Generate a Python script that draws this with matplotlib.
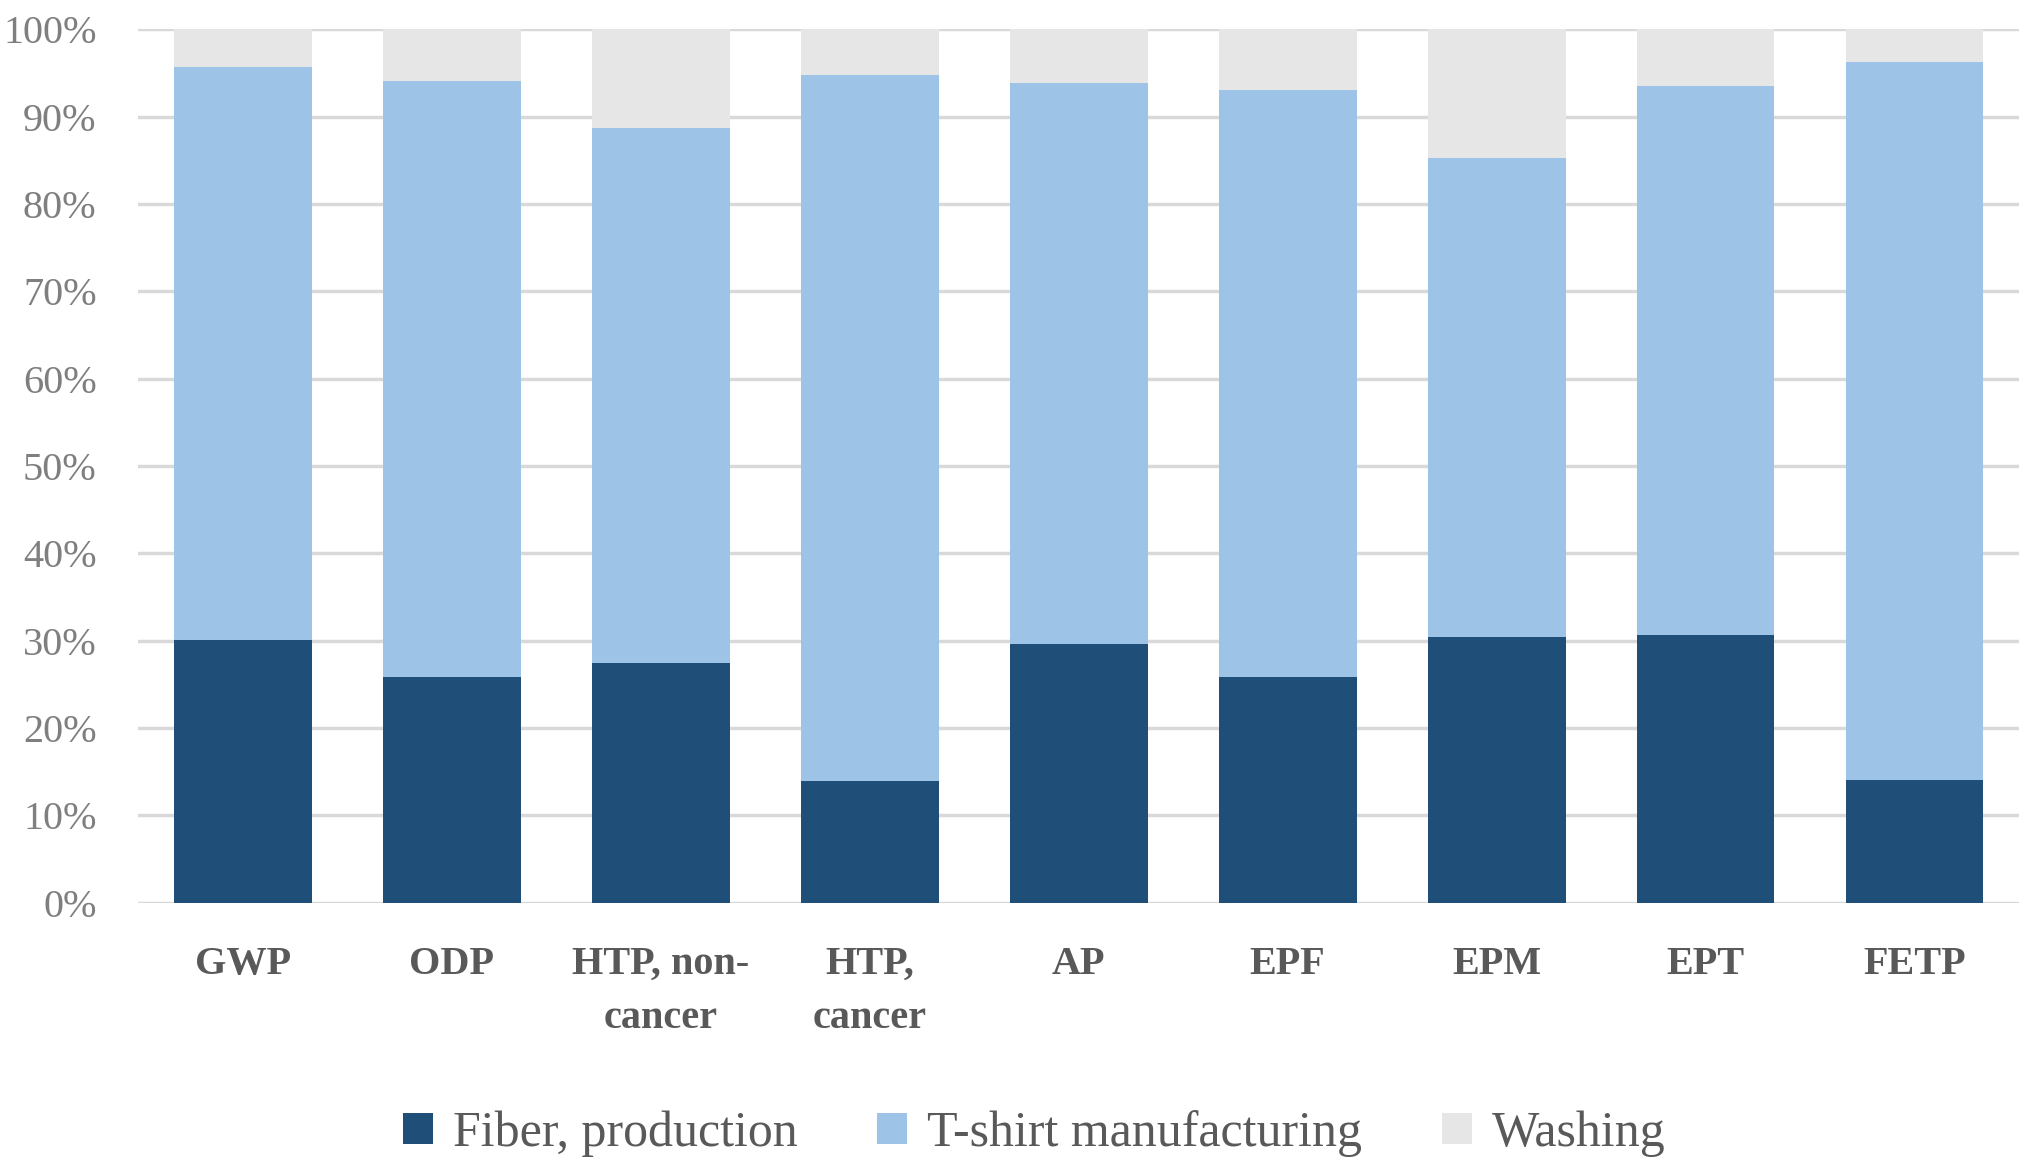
import numpy as np
from matplotlib import pyplot as plt
from matplotlib.ticker import PercentFormatter

plt.rcParams['font.family'] = ['Liberation Serif', 'DejaVu Serif']

categories = ["GWP", "ODP", "HTP, non-\ncancer", "HTP,\ncancer", "AP", "EPF", "EPM", "EPT", "FETP"]
fiber = [30.1, 25.9, 27.4, 13.9, 29.6, 25.8, 30.4, 30.7, 14.1]
tshirt = [65.6, 68.2, 61.3, 80.9, 64.3, 67.2, 54.9, 62.8, 82.2]
washing = [4.3, 5.9, 11.3, 5.2, 6.1, 7.0, 14.7, 6.5, 3.7]

c_fiber = "#1F4E79"
c_tshirt = "#9DC3E6"
c_wash = "#E7E6E6"

fig = plt.figure(figsize=(20.32, 11.71), dpi=100)
ax = fig.add_axes([0.068, 0.229, 0.9256, 0.746])

x = np.arange(len(categories))
w = 0.66
b1 = np.array(fiber)
b2 = b1 + np.array(tshirt)
ax.bar(x, fiber, w, color=c_fiber, label="Fiber, production", zorder=3)
ax.bar(x, tshirt, w, bottom=b1, color=c_tshirt, label="T-shirt manufacturing", zorder=3)
ax.bar(x, washing, w, bottom=b2, color=c_wash, label="Washing", zorder=3)

ax.set_xlim(-0.5, len(categories) - 0.5)
ax.set_ylim(0, 100)
ax.set_yticks(np.arange(0, 101, 10))
ax.yaxis.set_major_formatter(PercentFormatter(decimals=0))
ax.grid(axis="y", color="#D9D9D9", linewidth=2.5, zorder=0)
for s in ax.spines.values():
    s.set_visible(False)
ax.tick_params(axis="both", length=0)
ax.tick_params(axis="y", labelsize=29, labelcolor="#7F7F7F", pad=30)
ax.set_xticks(x)
ax.set_xticklabels(categories, fontsize=29, fontweight="bold", color="#595959", linespacing=1.6)
ax.tick_params(axis="x", pad=31)

leg = fig.legend(loc="center", bbox_to_anchor=(0.509, 0.032), ncol=3, frameon=False,
                 fontsize=36, handlelength=0.6, handleheight=0.6, handletextpad=0.4,
                 columnspacing=1.6, labelcolor="#595959")

plt.savefig("out.png", dpi=100)
